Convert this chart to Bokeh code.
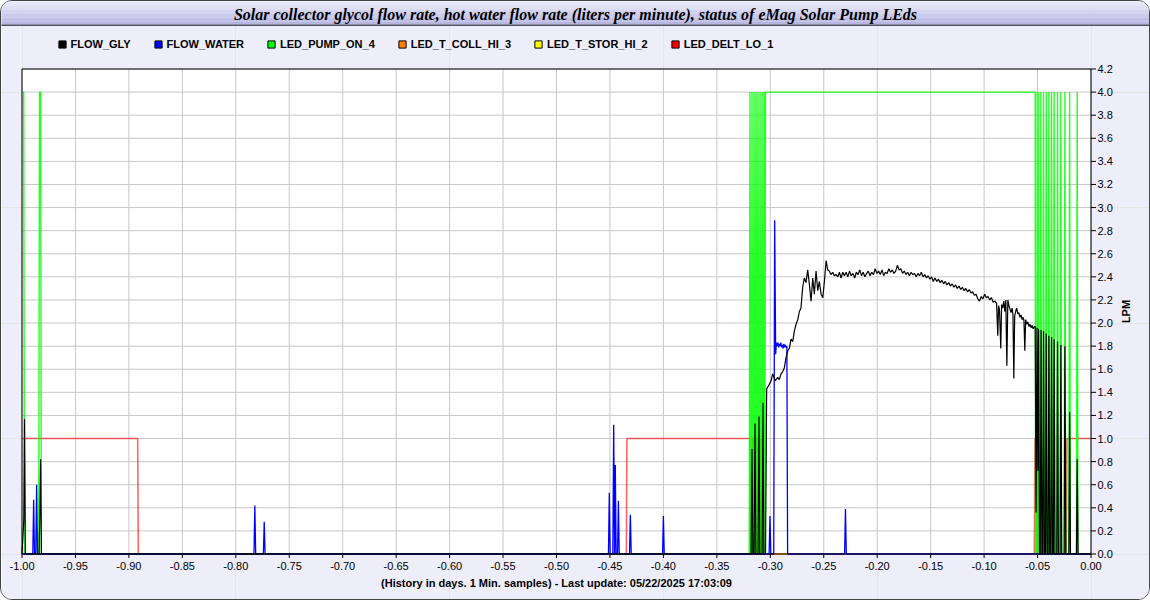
import math
from bokeh.plotting import figure
from bokeh.models import Range1d, Legend, LegendItem
from bokeh.core.properties import value
from bokeh.embed import file_html
from bokeh.resources import INLINE

TITLE = "Solar collector glycol flow rate, hot water flow rate (liters per minute), status of eMag Solar Pump LEds"
X_LABEL = "(History in days. 1 Min. samples) - Last update: 05/22/2025 17:03:09"
Y_LABEL = "LPM"

series_names = ["FLOW_GLY", "FLOW_WATER", "LED_PUMP_ON_4", "LED_T_COLL_HI_3", "LED_T_STOR_HI_2", "LED_DELT_LO_1"]
series_colors = ["#000000", "#0000FF", "#00FF00", "#FF8000", "#FFFF00", "#FF0000"]

x_ticks = [-1.00, -0.95, -0.90, -0.85, -0.80, -0.75, -0.70, -0.65, -0.60, -0.55, -0.50,
           -0.45, -0.40, -0.35, -0.30, -0.25, -0.20, -0.15, -0.10, -0.05, 0.00]
y_ticks = [0.0, 0.2, 0.4, 0.6, 0.8, 1.0, 1.2, 1.4, 1.6, 1.8, 2.0,
           2.2, 2.4, 2.6, 2.8, 3.0, 3.2, 3.4, 3.6, 3.8, 4.0, 4.2]
x_min, x_max = -1.0, 0.0
y_min, y_max = 0.0, 4.2

# FLOW_GLY (days, LPM)
gly_pts = [
    (-1.0000, 0.00), (-0.9983, 0.30), (-0.9976, 1.17), (-0.9968, 0.00),
    (-0.9840, 0.00), (-0.9833, 0.35), (-0.9826, 0.82), (-0.9818, 0.00),
    (-0.3180, 0.00), (-0.3171, 0.91), (-0.3163, 0.00), (-0.3152, 0.00), (-0.3143, 1.13), (-0.3135, 0.00),
    (-0.3115, 0.00), (-0.3106, 1.19), (-0.3098, 0.00), (-0.3077, 0.00), (-0.3068, 1.31), (-0.3060, 0.00),
    (-0.3045, 0.00),
    (-0.3034, 1.43), (-0.3009, 1.47), (-0.2993, 1.50), (-0.2978, 1.56), (-0.2953, 1.50), (-0.2931, 1.53),
    (-0.2916, 1.51), (-0.2900, 1.56), (-0.2884, 1.58), (-0.2869, 1.61), (-0.2853, 1.70), (-0.2837, 1.76),
    (-0.2822, 1.78), (-0.2806, 1.86), (-0.2790, 1.84), (-0.2775, 1.93), (-0.2759, 1.99), (-0.2743, 2.03),
    (-0.2728, 2.10), (-0.2713, 2.13), (-0.2697, 2.31), (-0.2682, 2.39), (-0.2666, 2.35), (-0.2650, 2.46),
    (-0.2635, 2.34), (-0.2619, 2.19), (-0.2603, 2.39), (-0.2588, 2.25), (-0.2572, 2.45), (-0.2556, 2.28),
    (-0.2541, 2.36), (-0.2525, 2.25), (-0.2509, 2.22), (-0.2494, 2.36), (-0.2478, 2.54), (-0.2463, 2.46),
    (-0.2448, 2.45), (-0.2432, 2.42), (-0.2416, 2.44), (-0.2401, 2.41), (-0.2385, 2.42), (-0.2369, 2.40),
    (-0.2354, 2.44), (-0.2338, 2.39), (-0.2322, 2.44), (-0.2307, 2.41),
    (-0.2291, 2.44), (-0.2275, 2.40), (-0.2259, 2.45), (-0.2243, 2.41), (-0.2227, 2.43), (-0.2211, 2.39),
    (-0.2195, 2.44), (-0.2179, 2.42), (-0.2163, 2.46), (-0.2147, 2.41), (-0.2131, 2.44), (-0.2115, 2.40),
    (-0.2099, 2.43), (-0.2083, 2.45), (-0.2067, 2.41), (-0.2051, 2.44), (-0.2035, 2.42), (-0.2019, 2.47),
    (-0.2003, 2.43), (-0.1987, 2.45), (-0.1971, 2.42), (-0.1955, 2.46), (-0.1939, 2.41), (-0.1923, 2.44),
    (-0.1907, 2.43), (-0.1891, 2.47), (-0.1875, 2.44), (-0.1859, 2.46), (-0.1843, 2.43), (-0.1827, 2.45),
    (-0.1811, 2.50), (-0.1795, 2.46), (-0.1779, 2.47), (-0.1763, 2.43), (-0.1747, 2.45), (-0.1731, 2.42),
    (-0.1715, 2.44), (-0.1699, 2.41), (-0.1683, 2.44), (-0.1667, 2.42), (-0.1651, 2.43), (-0.1635, 2.40),
    (-0.1619, 2.43), (-0.1603, 2.41), (-0.1587, 2.44), (-0.1571, 2.40), (-0.1555, 2.42), (-0.1539, 2.39),
    (-0.1523, 2.41), (-0.1507, 2.38), (-0.1491, 2.40), (-0.1475, 2.36), (-0.1459, 2.39), (-0.1443, 2.36),
    (-0.1427, 2.38), (-0.1411, 2.35), (-0.1395, 2.37), (-0.1379, 2.34), (-0.1363, 2.36), (-0.1347, 2.33),
    (-0.1331, 2.35), (-0.1315, 2.32), (-0.1299, 2.34), (-0.1283, 2.31), (-0.1267, 2.33), (-0.1251, 2.30),
    (-0.1235, 2.32), (-0.1219, 2.29), (-0.1203, 2.31), (-0.1187, 2.28), (-0.1171, 2.30), (-0.1155, 2.27),
    (-0.1139, 2.29), (-0.1123, 2.26), (-0.1107, 2.27), (-0.1091, 2.24), (-0.1075, 2.25), (-0.1059, 2.21),
    (-0.1043, 2.19), (-0.1027, 2.23), (-0.1011, 2.21), (-0.0995, 2.25), (-0.0979, 2.22), (-0.0963, 2.23),
    (-0.0947, 2.20), (-0.0931, 2.22), (-0.0915, 2.18), (-0.0899, 2.19),
    (-0.0883, 2.17), (-0.0872, 1.89), (-0.0865, 2.15), (-0.0856, 2.12), (-0.0844, 1.78), (-0.0836, 2.16),
    (-0.0826, 2.13), (-0.0816, 2.19), (-0.0806, 2.10), (-0.0797, 2.20), (-0.0787, 1.63), (-0.0778, 2.20),
    (-0.0768, 2.15), (-0.0758, 2.12), (-0.0748, 2.09), (-0.0738, 2.13), (-0.0730, 2.07), (-0.0722, 1.52),
    (-0.0714, 2.06), (-0.0705, 2.10), (-0.0695, 2.13), (-0.0685, 2.08), (-0.0675, 2.09), (-0.0665, 2.05),
    (-0.0655, 2.07), (-0.0645, 2.03), (-0.0635, 2.05), (-0.0627, 2.02), (-0.0619, 1.76), (-0.0611, 2.03),
    (-0.0601, 1.99), (-0.0591, 2.01), (-0.0581, 1.97), (-0.0571, 1.99), (-0.0561, 1.96), (-0.0551, 1.98),
    (-0.0541, 1.95), (-0.0531, 1.97),
    (-0.0522, 1.97), (-0.0514, 0.36), (-0.0505, 1.96), (-0.0497, 0.72), (-0.0490, 1.95), (-0.0482, 0.00),
    (-0.0474, 0.00), (-0.0467, 1.94), (-0.0459, 0.00), (-0.0451, 0.00), (-0.0444, 1.93), (-0.0436, 0.00),
    (-0.0426, 0.00), (-0.0419, 1.91), (-0.0411, 0.00), (-0.0401, 0.00), (-0.0394, 1.89), (-0.0386, 0.00),
    (-0.0376, 0.00), (-0.0369, 1.88), (-0.0361, 0.00), (-0.0352, 0.00), (-0.0345, 1.86), (-0.0337, 0.00),
    (-0.0320, 0.00), (-0.0313, 1.84), (-0.0305, 0.00), (-0.0289, 0.00), (-0.0282, 1.81), (-0.0274, 0.00),
    (-0.0251, 0.00), (-0.0244, 1.80), (-0.0236, 0.00), (-0.0207, 0.00), (-0.0200, 1.23), (-0.0192, 0.00),
    (-0.0136, 0.00), (-0.0129, 0.82), (-0.0121, 0.00), (0.0000, 0.00),
]

# FLOW_WATER
water_pts = [
    (-1.0000, 0.00), (-0.9899, 0.00), (-0.9891, 0.47), (-0.9883, 0.00), (-0.9871, 0.00), (-0.9863, 0.60),
    (-0.9855, 0.00), (-0.7830, 0.00), (-0.7822, 0.42), (-0.7814, 0.00), (-0.7742, 0.00), (-0.7734, 0.28),
    (-0.7726, 0.00), (-0.4514, 0.00), (-0.4506, 0.53), (-0.4498, 0.00), (-0.4473, 0.00), (-0.4465, 1.12),
    (-0.4457, 0.00), (-0.4456, 0.00), (-0.4450, 0.77), (-0.4442, 0.00), (-0.4429, 0.00), (-0.4421, 0.46),
    (-0.4413, 0.00), (-0.4317, 0.00), (-0.4309, 0.34), (-0.4301, 0.00), (-0.4008, 0.00), (-0.4000, 0.33),
    (-0.3992, 0.00), (-0.3011, 0.00), (-0.3003, 0.33), (-0.2995, 0.00), (-0.2968, 0.00), (-0.2959, 2.89),
    (-0.2950, 1.73), (-0.2943, 1.83), (-0.2936, 1.80), (-0.2929, 1.83), (-0.2922, 1.79), (-0.2915, 1.82),
    (-0.2908, 1.80), (-0.2901, 1.83), (-0.2894, 1.79), (-0.2887, 1.81), (-0.2880, 1.78), (-0.2873, 1.82),
    (-0.2866, 1.79), (-0.2859, 1.81), (-0.2852, 1.79), (-0.2845, 1.80), (-0.2838, 0.00), (-0.2305, 0.00),
    (-0.2297, 0.39), (-0.2289, 0.00), (0.0000, 0.00),
]

# LED_PUMP_ON_4
pump_pts = [
    (-1.0000, 4), (-0.9984, 4), (-0.9977, 0), (-0.9844, 0), (-0.9836, 4), (-0.9826, 4), (-0.9819, 0),
    (-0.3197, 0), (-0.3190, 4), (-0.3183, 0), (-0.3178, 0), (-0.3171, 4), (-0.3164, 0), (-0.3159, 0),
    (-0.3152, 4), (-0.3145, 0), (-0.3140, 0), (-0.3133, 4), (-0.3126, 0), (-0.3122, 0), (-0.3115, 4),
    (-0.3108, 0), (-0.3103, 0), (-0.3096, 4), (-0.3089, 0), (-0.3084, 0), (-0.3077, 4), (-0.3070, 0),
    (-0.3065, 0), (-0.3058, 4), (-0.3051, 0), (-0.3045, 4), (-0.0522, 4), (-0.0519, 0), (-0.0516, 4),
    (-0.0512, 0), (-0.0501, 0), (-0.0494, 4), (-0.0487, 0), (-0.0476, 0), (-0.0469, 4), (-0.0462, 0),
    (-0.0451, 0), (-0.0444, 4), (-0.0437, 0), (-0.0426, 0), (-0.0419, 4), (-0.0412, 0), (-0.0401, 0),
    (-0.0394, 4), (-0.0387, 0), (-0.0376, 0), (-0.0369, 4), (-0.0362, 0), (-0.0352, 0), (-0.0345, 4),
    (-0.0338, 0), (-0.0320, 0), (-0.0313, 4), (-0.0306, 0), (-0.0289, 0), (-0.0282, 4), (-0.0275, 0),
    (-0.0251, 0), (-0.0244, 4), (-0.0237, 0), (-0.0207, 0), (-0.0200, 4), (-0.0193, 0), (-0.0136, 0),
    (-0.0129, 4), (-0.0122, 0), (0.0000, 0),
]

# LED_T_COLL_HI_3, LED_T_STOR_HI_2
coll_pts = [(-1.0000, 0), (0.0000, 0)]
stor_pts = [(-1.0000, 0), (0.0000, 0)]

# LED_DELT_LO_1
delt_pts = [
    (-1.0000, 1), (-0.8918, 1), (-0.8912, 0), (-0.4347, 0), (-0.4341, 1), (-0.3190, 1), (-0.3184, 0),
    (-0.3172, 0), (-0.3166, 1), (-0.3153, 1), (-0.3147, 0), (-0.3135, 0), (-0.3129, 1), (-0.3116, 1),
    (-0.3110, 0), (-0.3098, 0), (-0.3092, 1), (-0.3079, 1), (-0.3073, 0), (-0.0530, 0), (-0.0524, 1),
    (-0.0511, 1), (-0.0505, 0), (-0.0231, 0), (-0.0225, 1), (0.0000, 1),
]


def xs(pts):
    return [a for a, _ in pts]


def ys(pts):
    return [b for _, b in pts]


# ---- layout: the frame covers the whole canvas; pixel helpers for decorations ----
W, H = 1150, 600
PL, PR = 20.5, 1089.5       # canvas x of x_min / x_max
PT, PB = 67.5, 552.5        # canvas y of y_max / y_min
SX = (PR - PL) / (x_max - x_min)
SY = (PB - PT) / (y_max - y_min)


def dx(px):
    return x_min + (px - PL) / SX


def dy(py):
    return y_min + (PB - py) / SY


BG = "#EEEEFA"
p = figure(width=W, height=H, output_backend="svg", toolbar_location=None,
           x_range=Range1d(dx(0), dx(W)), y_range=Range1d(dy(H), dy(0)),
           x_axis_location=None, y_axis_location=None, min_border=0)
p.min_border_left = p.min_border_right = p.min_border_top = p.min_border_bottom = 0
p.background_fill_color = BG
p.border_fill_color = BG
p.outline_line_color = None
p.styles = {"border": "1px solid #444444", "border-radius": "12px",
            "overflow": "hidden", "box-sizing": "border-box"}

FONT = value("Liberation Sans")

# title bar (gradient bands + dark bottom rule)
band_px = [(0, 4, "#E8E8F9"), (4, 8, "#DEDEF5"), (8, 12, "#D4D4F1"), (12, 16, "#CACAEC"),
           (16, 20, "#C0C0E6"), (20, 23, "#B6B6DF"), (23, 24.5, "#505060")]
p.quad(left=[dx(-5)] * len(band_px), right=[dx(W + 5)] * len(band_px),
       top=[dy(a) for a, _, _ in band_px], bottom=[dy(b) for _, b, _ in band_px],
       fill_color=[c for _, _, c in band_px], line_color=None)
p.text(x=[dx(574)], y=[dy(12.5)], text=[TITLE], text_font=value("Liberation Serif"),
       text_font_style="bold italic", text_font_size="16px", text_color="#000000",
       text_align="center", text_baseline="middle")

# plot area
p.quad(left=[x_min], right=[x_max], bottom=[y_min], top=[y_max], fill_color="#FFFFFF", line_color=None)
p.segment(x0=x_ticks, y0=[y_min] * len(x_ticks), x1=x_ticks, y1=[y_max] * len(x_ticks),
          line_color="#C8C8C8", line_width=1)
p.segment(x0=[x_min] * len(y_ticks), y0=y_ticks, x1=[x_max] * len(y_ticks), y1=y_ticks,
          line_color="#C8C8C8", line_width=1)

# series lines (LEDs underneath, flows on top)
p.line(xs(delt_pts), ys(delt_pts), line_color=series_colors[5], line_width=1.6, line_alpha=0.6)
p.line(xs(stor_pts), ys(stor_pts), line_color=series_colors[4], line_width=1.2)
p.line(xs(coll_pts), ys(coll_pts), line_color=series_colors[3], line_width=1.2)
p.line(xs(pump_pts), ys(pump_pts), line_color=series_colors[2], line_width=1.4, line_alpha=0.85)
p.line(xs(water_pts), ys(water_pts), line_color=series_colors[1], line_width=1.3)
p.line(xs(gly_pts), ys(gly_pts), line_color=series_colors[0], line_width=1.2)

# frame outline, ticks, tick labels
p.quad(left=[x_min], right=[x_max], bottom=[y_min], top=[y_max], fill_color=None,
       line_color="#000000", line_width=1)
p.segment(x0=x_ticks, y0=[y_min] * len(x_ticks), x1=x_ticks, y1=[dy(PB + 4)] * len(x_ticks),
          line_color="#000000", line_width=1)
p.segment(x0=[x_max] * len(y_ticks), y0=y_ticks, x1=[dx(PR + 5)] * len(y_ticks), y1=y_ticks,
          line_color="#000000", line_width=1)
p.text(x=x_ticks, y=[dy(564)] * len(x_ticks), text=["%.2f" % t for t in x_ticks],
       text_font=FONT, text_font_size="11px", text_color="#000000",
       text_align="center", text_baseline="middle")
p.text(x=[dx(1096)] * len(y_ticks), y=y_ticks, text=["%.1f" % t for t in y_ticks],
       text_font=FONT, text_font_size="11px", text_color="#000000",
       text_align="left", text_baseline="middle")

# axis titles
p.text(x=[dx((PL + PR) / 2)], y=[dy(581.5)], text=[X_LABEL], text_font=FONT,
       text_font_style="bold", text_font_size="11px", text_color="#000000",
       text_align="center", text_baseline="middle")
p.text(x=[dx(1124)], y=[dy((PT + PB) / 2)], text=[Y_LABEL], angle=math.pi / 2, text_font=FONT,
       text_font_style="bold", text_font_size="11px", text_color="#000000",
       text_align="center", text_baseline="middle")

# legend with square markers (marker keys sit outside the visible ranges)
items = []
for name, col in zip(series_names, series_colors):
    r = p.scatter(x=[-5.0], y=[-5.0], marker="square", fill_color=col, line_color="#000000", line_width=1)
    items.append(LegendItem(label=name, renderers=[r]))
legend = Legend(items=items, orientation="horizontal", location=(51.5, H - 52),
                glyph_width=18, glyph_height=18, label_height=18, label_standoff=0, spacing=18,
                padding=0, margin=0, border_line_color=None, background_fill_alpha=0,
                label_text_font="Liberation Sans", label_text_font_style="bold",
                label_text_font_size="11px", label_text_color="#000000")
p.add_layout(legend)

open("out.html", "w").write(file_html(p, INLINE))
